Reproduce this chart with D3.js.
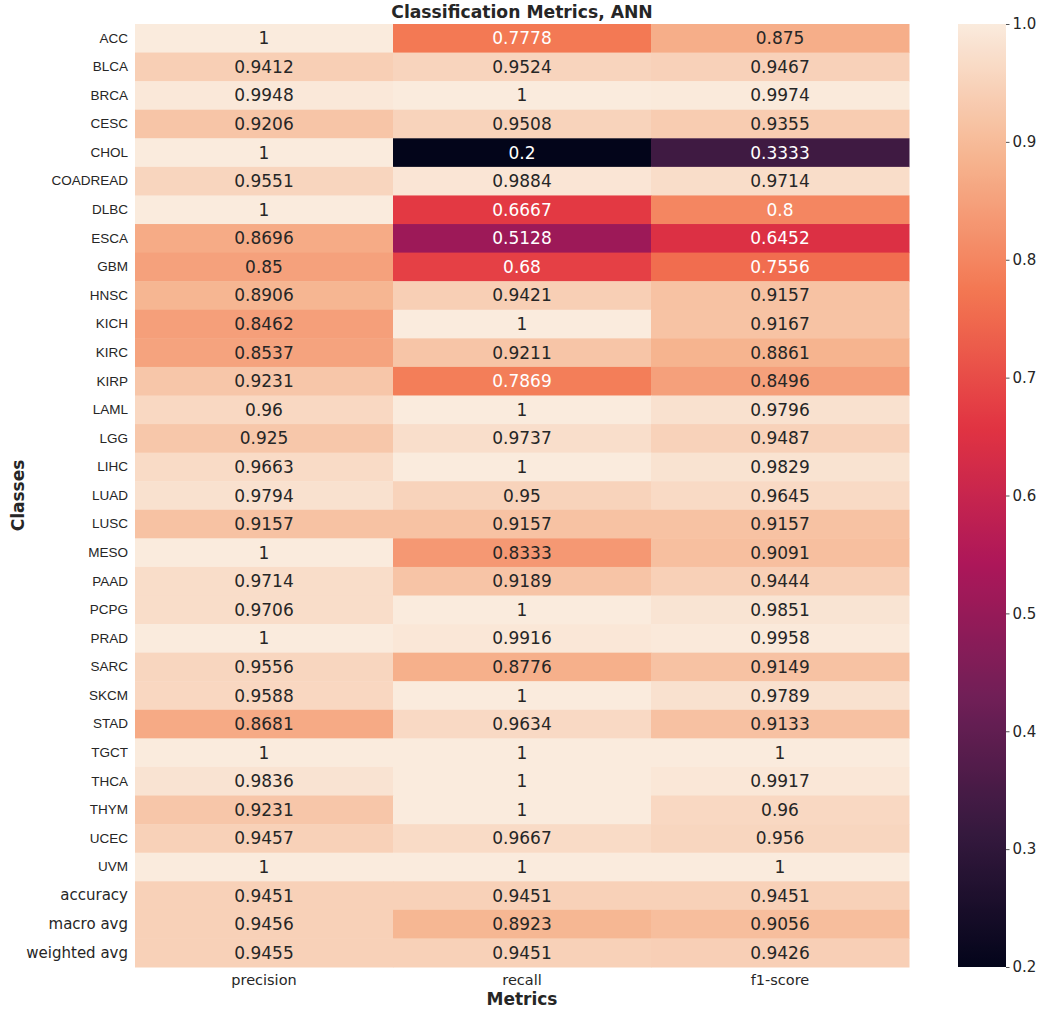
<!DOCTYPE html>
<html>
<head>
<meta charset="utf-8">
<script src="https://cdn.jsdelivr.net/npm/d3@7"></script>
<style>
  html, body { margin: 0; padding: 0; background: #ffffff; }
  svg { display: block; }
</style>
</head>
<body>
<svg id="chart" width="1039" height="1010"></svg>
<script>
// Per-class classification report of the ANN model
const classes = ["ACC", "BLCA", "BRCA", "CESC", "CHOL", "COADREAD", "DLBC", "ESCA", "GBM", "HNSC",
  "KICH", "KIRC", "KIRP", "LAML", "LGG", "LIHC", "LUAD", "LUSC", "MESO", "PAAD", "PCPG", "PRAD",
  "SARC", "SKCM", "STAD", "TGCT", "THCA", "THYM", "UCEC", "UVM", "accuracy", "macro avg", "weighted avg"];
const summaryRows = ["accuracy", "macro avg", "weighted avg"];
const metrics = ["precision", "recall", "f1-score"];

const precision = [1, 0.9412, 0.9948, 0.9206, 1, 0.9551, 1, 0.8696, 0.85, 0.8906,
  0.8462, 0.8537, 0.9231, 0.96, 0.925, 0.9663, 0.9794, 0.9157, 1, 0.9714, 0.9706, 1,
  0.9556, 0.9588, 0.8681, 1, 0.9836, 0.9231, 0.9457, 1, 0.9451, 0.9456, 0.9455];
const recall = [0.7778, 0.9524, 1, 0.9508, 0.2, 0.9884, 0.6667, 0.5128, 0.68, 0.9421,
  1, 0.9211, 0.7869, 1, 0.9737, 1, 0.95, 0.9157, 0.8333, 0.9189, 1, 0.9916,
  0.8776, 1, 0.9634, 1, 1, 1, 0.9667, 1, 0.9451, 0.8923, 0.9451];
const f1score = [0.875, 0.9467, 0.9974, 0.9355, 0.3333, 0.9714, 0.8, 0.6452, 0.7556, 0.9157,
  0.9167, 0.8861, 0.8496, 0.9796, 0.9487, 0.9829, 0.9645, 0.9157, 0.9091, 0.9444, 0.9851, 0.9958,
  0.9149, 0.9789, 0.9133, 1, 0.9917, 0.96, 0.956, 1, 0.9451, 0.9056, 0.9426];

const colorbarTicks = [0.2, 0.3, 0.4, 0.5, 0.6, 0.7, 0.8, 0.9, 1.0];

// "rocket" sequential palette stops (position 0..1 -> colour)
const rocketPos = [0, 1 / 7, 2 / 7, 3 / 7, 4 / 7, 5 / 7, 6 / 7, 1];
const rocketHex = ["#03051a", "#35193e", "#701f57", "#ad1759", "#e13342", "#f37651", "#f6b48f", "#faebdd"];

const cells = [];
const columns = [precision, recall, f1score];
classes.forEach((c, i) => {
  metrics.forEach((m, j) => cells.push({ row: c, col: m, value: columns[j][i] }));
});

const svg = d3.select("#chart");
const plot = { left: 135, right: 909, top: 24, bottom: 967 };
const cbar = { left: 958, right: 1006 };
const vmin = 0.2, vmax = 1.0;

const x = d3.scaleBand().domain(metrics).range([plot.left, plot.right]);
const y = d3.scaleBand().domain(classes).range([plot.top, plot.bottom]);

const tPos = d3.scaleLinear().domain([vmin, vmax]).range([0, 1]).clamp(true);
const rocket = d3.scaleLinear().domain(rocketPos).range(rocketHex).interpolate(d3.interpolateRgb);
const color = v => rocket(tPos(v));

// Text colour chosen from the cell's relative luminance
function luminance(c) {
  const rgb = d3.rgb(c);
  const lin = u => { u /= 255; return u <= 0.03928 ? u / 12.92 : Math.pow((u + 0.055) / 1.055, 2.4); };
  return 0.2126 * lin(rgb.r) + 0.7152 * lin(rgb.g) + 0.0722 * lin(rgb.b);
}

const font = "'DejaVu Sans', sans-serif";

// Cells
svg.append("g").selectAll("rect").data(cells).join("rect")
  .attr("x", d => x(d.col))
  .attr("y", d => y(d.row))
  .attr("width", x.bandwidth() + 0.5)
  .attr("height", y.bandwidth() + 0.5)
  .attr("fill", d => color(d.value));

// Annotations
svg.append("g").selectAll("text").data(cells).join("text")
  .attr("x", d => x(d.col) + x.bandwidth() / 2)
  .attr("y", d => y(d.row) + y.bandwidth() / 2)
  .attr("text-anchor", "middle")
  .attr("dominant-baseline", "central")
  .attr("font-family", font)
  .attr("font-size", 17)
  .attr("fill", d => luminance(color(d.value)) > 0.408 ? "#262626" : "#ffffff")
  .text(d => String(d.value));

// Row labels
const yAxis = svg.append("g")
  .attr("transform", `translate(${plot.left},0)`)
  .call(d3.axisLeft(y).tickSize(0).tickPadding(7));
yAxis.select(".domain").remove();
yAxis.selectAll("text")
  .attr("fill", "#262626")
  .attr("font-family", d => summaryRows.includes(d) ? font : "'Liberation Sans', Arial, sans-serif")
  .attr("font-size", d => summaryRows.includes(d) ? 15 : 13.5);

// Column labels
const xAxis = svg.append("g")
  .attr("transform", `translate(0,${plot.bottom})`)
  .call(d3.axisBottom(x).tickSize(0).tickPadding(8));
xAxis.select(".domain").remove();
xAxis.selectAll("text")
  .attr("fill", "#262626")
  .attr("font-family", font)
  .attr("font-size", 14.5);

// Title and axis titles
svg.append("text")
  .attr("x", (plot.left + plot.right) / 2).attr("y", 18)
  .attr("text-anchor", "middle")
  .attr("font-family", font).attr("font-weight", "bold").attr("font-size", 17.2)
  .attr("fill", "#262626")
  .text("Classification Metrics, ANN");

svg.append("text")
  .attr("x", (plot.left + plot.right) / 2).attr("y", 1005)
  .attr("text-anchor", "middle")
  .attr("font-family", font).attr("font-weight", "bold").attr("font-size", 17)
  .attr("fill", "#262626")
  .text("Metrics");

svg.append("text")
  .attr("transform", `translate(24,${(plot.top + plot.bottom) / 2}) rotate(-90)`)
  .attr("text-anchor", "middle")
  .attr("font-family", font).attr("font-weight", "bold").attr("font-size", 17)
  .attr("fill", "#262626")
  .text("Classes");

// Colour bar
const cy = d3.scaleLinear().domain([vmin, vmax]).range([plot.bottom, plot.top]);
const grad = svg.append("defs").append("linearGradient")
  .attr("id", "cbar-grad").attr("x1", 0).attr("y1", 1).attr("x2", 0).attr("y2", 0);
d3.range(0, 1.0001, 0.01).forEach(t => {
  grad.append("stop").attr("offset", t).attr("stop-color", rocket(t));
});
svg.append("rect")
  .attr("x", cbar.left).attr("y", plot.top)
  .attr("width", cbar.right - cbar.left).attr("height", plot.bottom - plot.top)
  .attr("fill", "url(#cbar-grad)");

const cAxis = svg.append("g")
  .attr("transform", `translate(${cbar.right},0)`)
  .call(d3.axisRight(cy).tickValues(colorbarTicks).tickFormat(d3.format(".1f")).tickSize(3.5).tickPadding(3));
cAxis.select(".domain").remove();
cAxis.selectAll("line").attr("stroke", "#262626").attr("stroke-width", 0.8);
cAxis.selectAll("text")
  .attr("fill", "#262626")
  .attr("font-family", font)
  .attr("font-size", 15);
</script>
</body>
</html>
